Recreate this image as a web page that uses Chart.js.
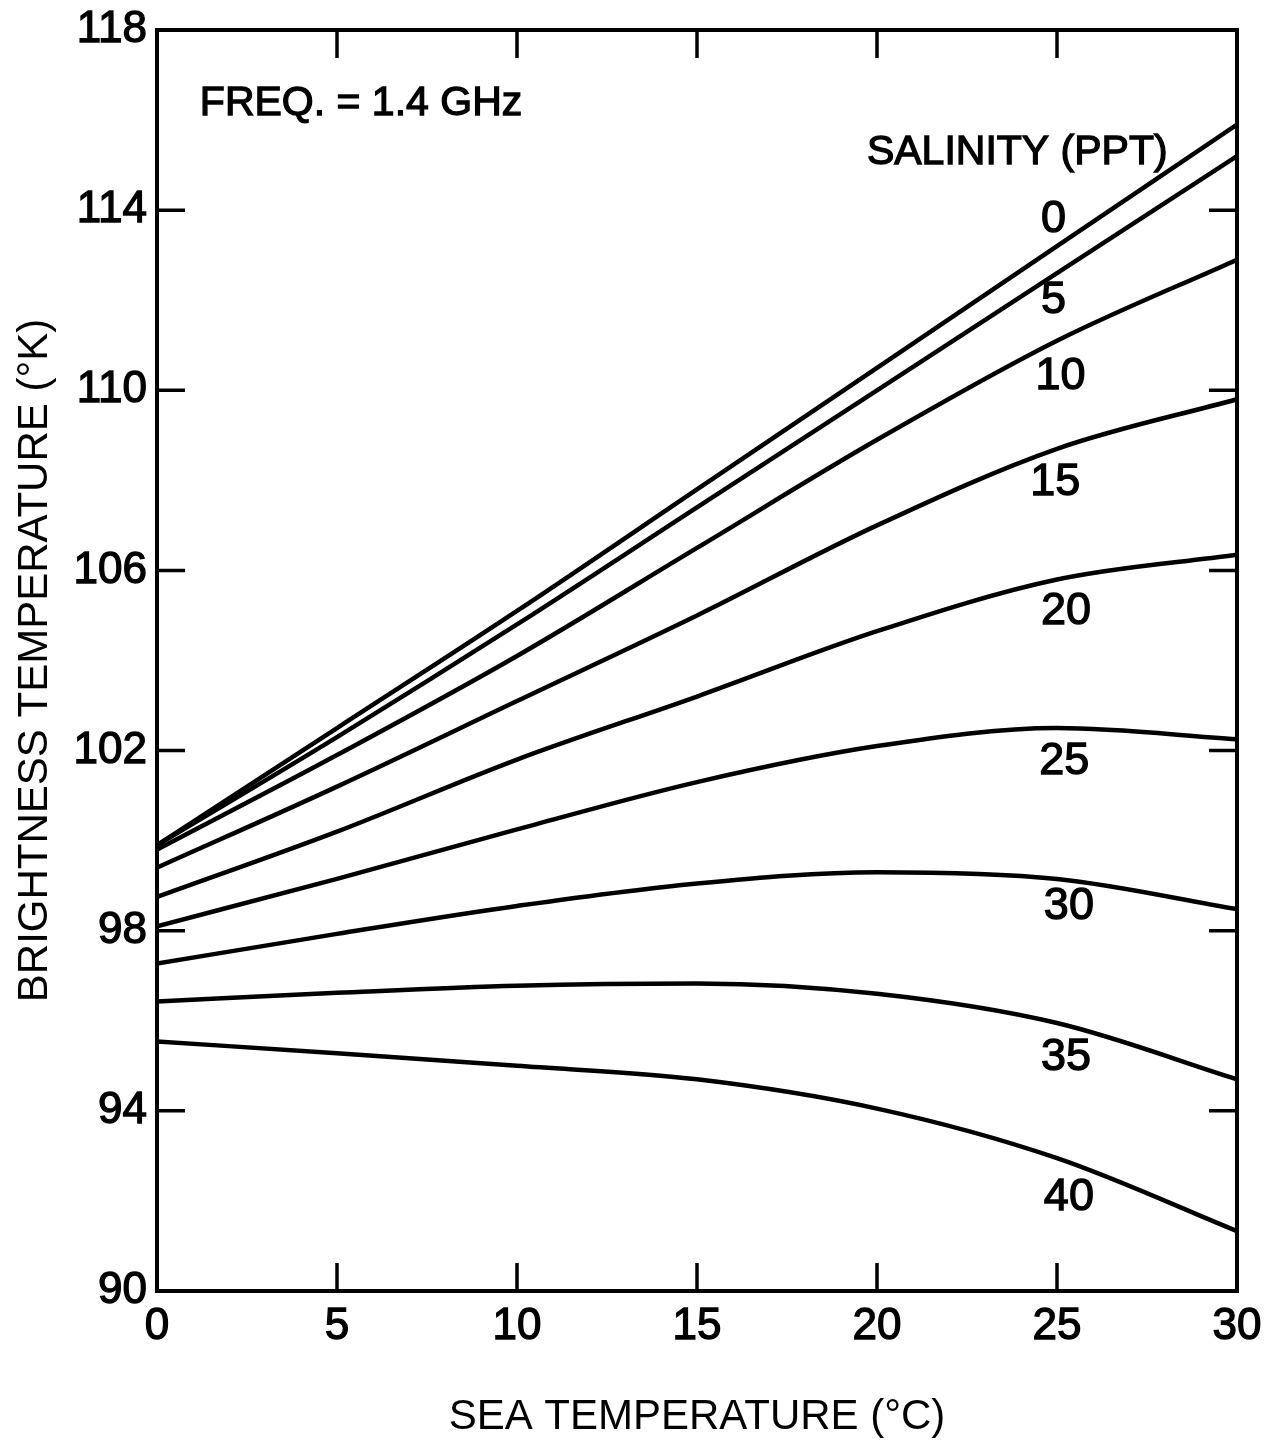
<!DOCTYPE html>
<html>
<head>
<meta charset="utf-8">
<script src="https://cdn.jsdelivr.net/npm/chart.js@4/dist/chart.umd.min.js"></script>
<style>
  html, body { margin: 0; padding: 0; background: #fff; }
  canvas { display: block; }
</style>
</head>
<body>
<canvas id="chart" width="1267" height="1443"></canvas>
<script>
// sea temperature (deg C) where each curve is sampled
const seaTemp = [0, 5, 10, 15, 20, 25, 30];

// brightness temperature (deg K) for each salinity (ppt)
const salinity = ['0', '5', '10', '15', '20', '25', '30', '35', '40'];
const tb0  = [99.9, 102.5, 105.1, 107.8, 110.5, 113.2, 115.9];
const tb5  = [99.9, 102.3, 104.8, 107.4, 110.0, 112.6, 115.2];
const tb10 = [99.8, 101.9, 104.1, 106.5, 108.9, 111.1, 112.9];
const tb15 = [99.4, 101.2, 103.1, 105.0, 107.0, 108.7, 109.8];
const tb20 = [98.75, 100.2, 101.8, 103.2, 104.65, 105.8, 106.35];
const tb25 = [98.1, 99.15, 100.25, 101.3, 102.1, 102.5, 102.25];
const tb30 = [97.27, 97.93, 98.55, 99.05, 99.3, 99.15, 98.48];
const tb35 = [96.43, 96.62, 96.78, 96.83, 96.6, 95.95, 94.7];
const tb40 = [95.54, 95.28, 95.0, 94.7, 94.05, 92.95, 91.33];
const curves = [tb0, tb5, tb10, tb15, tb20, tb25, tb30, tb35, tb40];

// axis ticks
const xTicks = [0, 5, 10, 15, 20, 25, 30];
const yTicks = [90, 94, 98, 102, 106, 110, 114, 118];

// where each salinity label sits, in (deg C, deg K)
const labelAt = [
  [24.9, 113.8], [24.9, 112.0], [25.1, 110.3], [24.95, 107.95], [25.25, 105.08],
  [25.2, 101.75], [25.33, 98.53], [25.25, 95.18], [25.33, 92.07]
];

const FONT = '"Liberation Sans", Arial, sans-serif';

const datasets = curves.map((vals, i) => ({
  label: salinity[i],
  data: seaTemp.map((t, j) => ({ x: t, y: vals[j] })),
  borderColor: '#000',
  borderWidth: 4.5,
  pointRadius: 0,
  fill: false,
  cubicInterpolationMode: 'monotone'
}));

function heavyText(ctx, text, px, py) {
  ctx.fillText(text, px, py);
  ctx.strokeText(text, px, py);
}

// box, inward tick marks and the text inside the plot
const frame = {
  id: 'frame',
  afterDatasetsDraw(chart) {
    const { ctx, chartArea: a, scales: { x, y } } = chart;
    ctx.save();
    ctx.strokeStyle = '#000';
    ctx.lineWidth = 4;
    ctx.strokeRect(a.left, a.top, a.right - a.left, a.bottom - a.top);

    ctx.lineWidth = 3.5;
    ctx.beginPath();
    xTicks.slice(1, -1).forEach(v => {
      const px = x.getPixelForValue(v);
      ctx.moveTo(px, a.bottom); ctx.lineTo(px, a.bottom - 28);
      ctx.moveTo(px, a.top); ctx.lineTo(px, a.top + 28);
    });
    yTicks.slice(1, -1).forEach(v => {
      const py = y.getPixelForValue(v);
      ctx.moveTo(a.left, py); ctx.lineTo(a.left + 28, py);
      ctx.moveTo(a.right, py); ctx.lineTo(a.right - 28, py);
    });
    ctx.stroke();

    ctx.fillStyle = '#000';
    ctx.lineWidth = 1.3;
    ctx.textBaseline = 'middle';
    ctx.textAlign = 'left';
    ctx.font = '41px ' + FONT;
    heavyText(ctx, 'FREQ. = 1.4 GHz', x.getPixelForValue(1.19), y.getPixelForValue(116.36));
    heavyText(ctx, 'SALINITY (PPT)', x.getPixelForValue(19.72), y.getPixelForValue(115.27));

    ctx.textAlign = 'center';
    ctx.font = '45px ' + FONT;
    salinity.forEach((s, i) => {
      heavyText(ctx, s, x.getPixelForValue(labelAt[i][0]), y.getPixelForValue(labelAt[i][1]));
    });
    ctx.restore();
  }
};

new Chart(document.getElementById('chart'), {
  type: 'line',
  data: { datasets },
  options: {
    responsive: false,
    animation: false,
    layout: { padding: { left: 0, right: 30, top: 30, bottom: 0 } },
    plugins: {
      legend: { display: false },
      tooltip: { enabled: false }
    },
    scales: {
      x: {
        type: 'linear',
        min: 0,
        max: 30,
        afterFit: s => { s.height = 152; s.paddingLeft = 0; s.paddingRight = 0; },
        afterBuildTicks: s => { s.ticks = xTicks.map(v => ({ value: v })); },
        grid: { display: false, drawTicks: false },
        border: { display: false },
        ticks: {
          autoSkip: false,
          maxRotation: 0,
          padding: 14,
          color: '#000',
          textStrokeColor: '#000',
          textStrokeWidth: 1.3,
          font: { family: FONT, size: 44, lineHeight: 1 }
        },
        title: {
          display: true,
          text: 'SEA TEMPERATURE (°C)',
          color: '#000',
          font: { family: FONT, size: 42, lineHeight: 1.2 },
          padding: { top: 0, bottom: 0 }
        }
      },
      y: {
        min: 90,
        max: 118,
        afterFit: s => { s.width = 157; s.paddingTop = 0; s.paddingBottom = 0; },
        afterBuildTicks: s => { s.ticks = yTicks.map(v => ({ value: v })); },
        grid: { display: false, drawTicks: false },
        border: { display: false },
        ticks: {
          autoSkip: false,
          padding: 10,
          color: '#000',
          textStrokeColor: '#000',
          textStrokeWidth: 1.3,
          font: { family: FONT, size: 44, lineHeight: 1 }
        },
        title: {
          display: true,
          text: 'BRIGHTNESS TEMPERATURE (°K)',
          color: '#000',
          font: { family: FONT, size: 42, lineHeight: 1.2 },
          padding: { top: 10, bottom: 0 }
        }
      }
    }
  },
  plugins: [frame]
});
</script>
</body>
</html>
